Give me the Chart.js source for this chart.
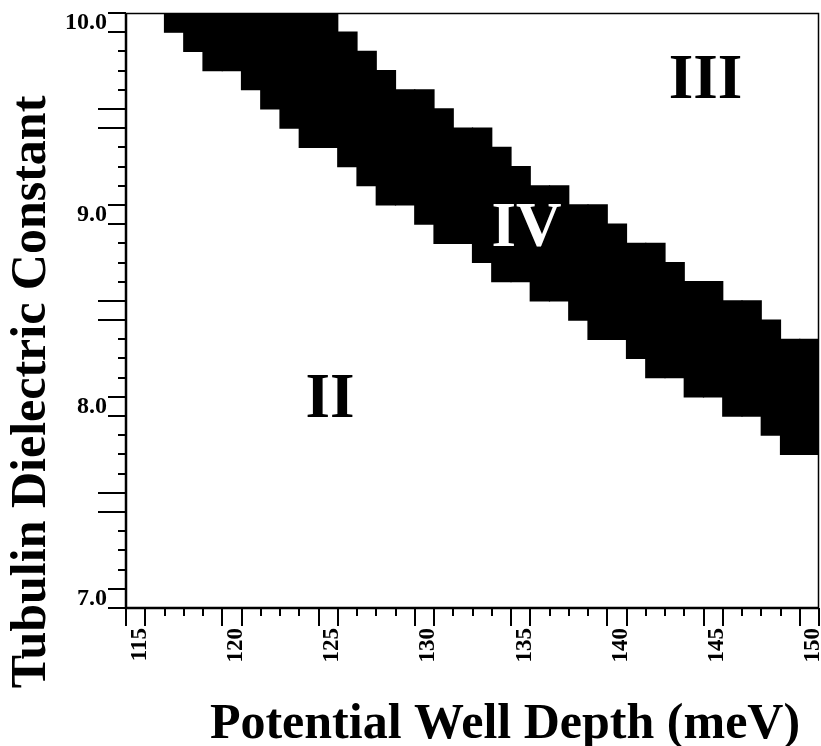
<!DOCTYPE html>
<html>
<head>
<meta charset="utf-8">
<title>Phase diagram</title>
<script src="https://cdn.jsdelivr.net/npm/chart.js@4.4.0/dist/chart.umd.min.js"></script>
<style>
  html, body { margin: 0; padding: 0; background: #fff; }
  #wrap { width: 821px; height: 746px; }
</style>
</head>
<body>
<div id="wrap"><canvas id="phaseChart" width="821" height="746"></canvas></div>
<script>
// potential well depth (meV), one column per value
const wellDepth = [115, 116, 117, 118, 119, 120, 121, 122, 123, 124, 125, 126,
  127, 128, 129, 130, 131, 132, 133, 134, 135, 136, 137, 138, 139, 140, 141,
  142, 143, 144, 145, 146, 147, 148, 149, 150];

// region IV: lowest and highest dielectric constant in each column (null = none)
const bandLow = [null, null, 10.0, 9.9, 9.8, 9.8, 9.7, 9.6, 9.5, 9.4, 9.4, 9.3,
  9.2, 9.1, 9.1, 9.0, 8.9, 8.9, 8.8, 8.7, 8.7, 8.6, 8.6, 8.5, 8.4, 8.4, 8.3,
  8.2, 8.2, 8.1, 8.1, 8.0, 8.0, 7.9, 7.8, 7.8];
const bandHigh = [null, null, 10.0, 10.0, 10.0, 10.0, 10.0, 10.0, 10.0, 10.0, 10.0, 9.9,
  9.8, 9.7, 9.6, 9.6, 9.5, 9.4, 9.4, 9.3, 9.2, 9.1, 9.1, 9.0, 9.0, 8.9, 8.8,
  8.8, 8.7, 8.6, 8.6, 8.5, 8.5, 8.4, 8.3, 8.3];

const depthTicks = [115, 120, 125, 130, 135, 140, 145, 150];
const dielectricTicks = [7.0, 8.0, 9.0, 10.0];
const dielectricMin = 7.0;
const dielectricMax = 10.0;

// region names and where they sit (data coords)
const regionNames = ['II', 'III', 'IV'];
const regionDepth = [125.1, 144.6, 135.3];
const regionDielectric = [8.03, 9.69, 8.92];

const depthStep = 1;
const dielectricStep = 0.1;

const serif = "'Liberation Serif', 'Times New Roman', serif";

const bandPoints = [];
wellDepth.forEach((d, i) => {
  if (bandLow[i] === null) return;
  bandPoints.push({ x: d, y: [bandLow[i] - dielectricStep / 2, bandHigh[i] + dielectricStep / 2] });
});

// tick marks on the bin edges, frame, titles and region names
const decor = {
  id: 'decor',
  afterDraw(chart) {
    const { ctx, chartArea: a, scales: { x, y } } = chart;
    ctx.save();
    ctx.strokeStyle = '#000';
    ctx.lineCap = 'butt';

    // top and right frame
    ctx.lineWidth = 1.5;
    ctx.beginPath();
    ctx.moveTo(a.left, a.top + 0.5);
    ctx.lineTo(a.right - 0.5, a.top + 0.5);
    ctx.lineTo(a.right - 0.5, a.bottom);
    ctx.stroke();

    // x ticks
    ctx.lineWidth = 2;
    const nx = Math.round((x.max - x.min) / depthStep);
    for (let k = 0; k <= nx; k++) {
      const v = x.min + k * depthStep;
      const near = Math.round(v / 5) * 5;
      const len = Math.abs(Math.abs(v - near) - depthStep / 2) < 1e-6 ? 18 : 8;
      const px = Math.round(x.getPixelForValue(v));
      ctx.beginPath();
      ctx.moveTo(px, a.bottom);
      ctx.lineTo(px, a.bottom + len);
      ctx.stroke();
    }

    // y ticks
    const ny = Math.round((y.max - y.min) / dielectricStep);
    for (let k = 0; k <= ny; k++) {
      const v = y.min + k * dielectricStep;
      const whole = Math.round(v);
      const half = Math.floor(v) + 0.5;
      let len = 8;
      if (Math.abs(Math.abs(v - whole) - dielectricStep / 2) < 1e-6) len = 18;
      else if (Math.abs(Math.abs(v - half) - dielectricStep / 2) < 1e-6) len = 28;
      const py = Math.round(y.getPixelForValue(v));
      ctx.beginPath();
      ctx.moveTo(a.left, py);
      ctx.lineTo(a.left - len, py);
      ctx.stroke();
    }

    // left and bottom axis lines
    ctx.lineWidth = 2.5;
    ctx.beginPath();
    ctx.moveTo(a.left, a.top);
    ctx.lineTo(a.left, a.bottom);
    ctx.lineTo(a.right, a.bottom);
    ctx.stroke();

    // region names
    ctx.font = 'bold 63px ' + serif;
    ctx.textAlign = 'center';
    ctx.textBaseline = 'middle';
    regionNames.forEach((name, i) => {
      ctx.fillStyle = name === 'IV' ? '#fff' : '#000';
      ctx.fillText(name, x.getPixelForValue(regionDepth[i]), y.getPixelForValue(regionDielectric[i]));
    });

    // axis titles
    ctx.fillStyle = '#000';
    ctx.font = 'bold 50px ' + serif;
    ctx.textBaseline = 'alphabetic';
    ctx.fillText('Potential Well Depth (meV)', 505, 738);
    ctx.translate(45, 392);
    ctx.rotate(-Math.PI / 2);
    ctx.fillText('Tubulin Dielectric Constant', 0, 0);
    ctx.restore();
  }
};

const hiddenGrid = {
  display: true,
  offset: false,
  drawOnChartArea: false,
  drawTicks: true,
  color: 'transparent',
  tickColor: 'transparent'
};

new Chart(document.getElementById('phaseChart'), {
  type: 'bar',
  data: {
    datasets: [{
      data: bandPoints,
      backgroundColor: '#000',
      borderWidth: 0,
      barPercentage: 1,
      categoryPercentage: 1,
      inflateAmount: 0.6
    }]
  },
  options: {
    responsive: false,
    animation: false,
    events: [],
    layout: { padding: { top: 13, right: 2, left: 0, bottom: 0 } },
    plugins: { legend: { display: false }, tooltip: { enabled: false } },
    scales: {
      x: {
        type: 'linear',
        offset: false,
        min: wellDepth[0] - depthStep / 2,
        max: wellDepth[wellDepth.length - 1] + depthStep / 2,
        afterBuildTicks: s => { s.ticks = depthTicks.map(v => ({ value: v })); },
        afterFit: s => {
          s.height = 138;
          s.paddingLeft = 0;
          s.paddingRight = 0;
        },
        grid: Object.assign({ tickLength: 18 }, hiddenGrid),
        border: { display: false },
        ticks: {
          autoSkip: false,
          minRotation: 90,
          maxRotation: 90,
          padding: 2,
          labelOffset: 4,
          color: '#000',
          font: { family: serif, size: 23, weight: 'bold' },
          callback: v => String(v)
        }
      },
      y: {
        type: 'linear',
        min: dielectricMin - dielectricStep / 2,
        max: dielectricMax + dielectricStep / 2,
        afterBuildTicks: s => { s.ticks = dielectricTicks.map(v => ({ value: v })); },
        afterFit: s => {
          s.width = 126;
          s.paddingTop = 0;
          s.paddingBottom = 0;
        },
        grid: Object.assign({ tickLength: 18 }, hiddenGrid),
        border: { display: false },
        ticks: {
          padding: 1,
          color: '#000',
          font: { family: serif, size: 24, weight: 'bold' },
          callback: v => v.toFixed(1)
        }
      }
    }
  },
  plugins: [decor]
});
</script>
</body>
</html>
